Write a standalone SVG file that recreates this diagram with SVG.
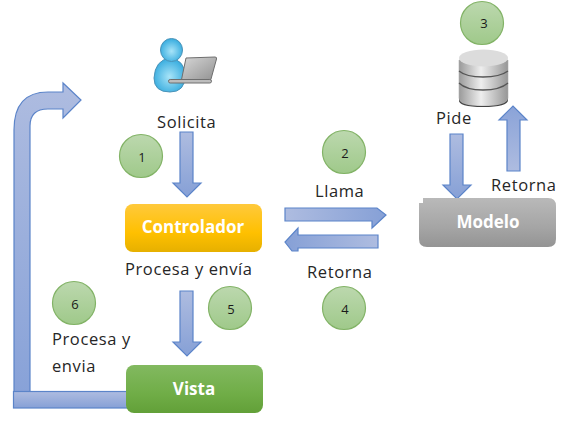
<svg xmlns="http://www.w3.org/2000/svg" width="572" height="424" viewBox="0 0 572 424">
<style>
.t{font-family:"Open Sans","Noto Sans",sans-serif;font-size:16.500px;fill:#262626;letter-spacing:.6px}
.n{font-family:"Open Sans","Noto Sans",sans-serif;font-size:13px;fill:#1a1a1a;text-anchor:middle}
.b{font-family:"Open Sans","Noto Sans",sans-serif;font-size:17px;font-weight:700;fill:#fff;text-anchor:middle}
.c{fill:url(#gc);stroke:#82b366;stroke-width:1.2}
.a{stroke:#5b84c9;stroke-width:1.2}
</style>
<defs>
<linearGradient id="gc" x1="0" y1="0" x2="0" y2="1"><stop offset="0" stop-color="#bcd8ae"/><stop offset="1" stop-color="#9fc98a"/></linearGradient>
<linearGradient id="gv" x1="0" y1="0" x2="0" y2="1"><stop offset="0" stop-color="#aebce0"/><stop offset="1" stop-color="#86a0d6"/></linearGradient>
<linearGradient id="gb" x1="0" y1="0" x2="0" y2="1"><stop offset="0" stop-color="#aebce0"/><stop offset="1" stop-color="#88a2d8"/></linearGradient>
<linearGradient id="gv2" x1="0" y1="0" x2="0" y2="1"><stop offset="0" stop-color="#8aa3d8"/><stop offset="1" stop-color="#aebce0"/></linearGradient>
<linearGradient id="gh" x1="0" y1="0" x2="1" y2="0"><stop offset="0" stop-color="#aebce0"/><stop offset="1" stop-color="#86a0d6"/></linearGradient>
<linearGradient id="gh2" x1="0" y1="0" x2="1" y2="0"><stop offset="0" stop-color="#86a0d6"/><stop offset="1" stop-color="#aebce0"/></linearGradient>
<linearGradient id="gy" x1="0" y1="0" x2="0" y2="1"><stop offset="0" stop-color="#ffc93c"/><stop offset=".6" stop-color="#ffc000"/><stop offset="1" stop-color="#e6b000"/></linearGradient>
<linearGradient id="gg" x1="0" y1="0" x2="0" y2="1"><stop offset="0" stop-color="#82b960"/><stop offset=".6" stop-color="#70ad47"/><stop offset="1" stop-color="#62a038"/></linearGradient>
<linearGradient id="gm" x1="0" y1="0" x2="0" y2="1"><stop offset="0" stop-color="#b9b9b9"/><stop offset=".6" stop-color="#a5a5a5"/><stop offset="1" stop-color="#949494"/></linearGradient>
<linearGradient id="gdb" x1="0" y1="0" x2="1" y2="0"><stop offset="0" stop-color="#9a9a9a"/><stop offset=".45" stop-color="#eeeeee"/><stop offset="1" stop-color="#969696"/></linearGradient>
<radialGradient id="gp" cx=".5" cy=".55" r=".6"><stop offset="0" stop-color="#a8e4f8"/><stop offset="1" stop-color="#2ba6dc"/></radialGradient>
<linearGradient id="gl" x1="0" y1="0" x2="1" y2="1"><stop offset="0" stop-color="#d8d8d8"/><stop offset="1" stop-color="#8e8e8e"/></linearGradient>
</defs>
<g id="connectors">
<path class="a" fill="url(#gv)" d="M180 132H193V183H201L187 197L173 183H180Z"/>
<path class="a" fill="url(#gv)" d="M180 291H193V342H201L187 356L173 342H180Z"/>
<path class="a" fill="url(#gv)" d="M450 134H463V185H471L457 199L443 185H450Z"/>
<path class="a" fill="url(#gv2)" d="M507 171H520V120H527L513 106L499 120H507Z"/>
<path class="a" fill="url(#gh)" d="M285 208H377L386 215L372 228V221H285Z"/>
<path class="a" fill="url(#gh2)" d="M378 235V248H298V251H292L285 242L298 228V235Z"/>
<path class="a" fill="url(#gb)" d="M14 392V130Q14 92 48 92H63V83L81 100L63 118V109H48Q30 109 30 126V392Z"/>
<rect class="a" x="13.500" y="391.500" width="115" height="16.500" fill="url(#gv)"/>
</g>
<g id="n-circle-1"><circle class="c" cx="141" cy="156" r="21.500"/><text class="n" x="142" y="162">1</text></g>
<g id="n-circle-2"><circle class="c" cx="344" cy="152" r="21.500"/><text class="n" x="345" y="158">2</text></g>
<g id="n-circle-3"><circle class="c" cx="482" cy="23" r="21.500"/><text class="n" x="484" y="28">3</text></g>
<g id="n-circle-4"><circle class="c" cx="344" cy="308" r="21.500"/><text class="n" x="345" y="314">4</text></g>
<g id="n-circle-5"><circle class="c" cx="230" cy="308" r="21.500"/><text class="n" x="231" y="314">5</text></g>
<g id="n-circle-6"><circle class="c" cx="74" cy="303" r="21.500"/><text class="n" x="75" y="309">6</text></g>
<g id="n-user">
<path d="M154 78Q155 60 170 58Q185 60 185 76Q185 92 170 92Q154 92 154 78Z" fill="url(#gp)" stroke="#4b93b8"/>
<ellipse cx="171.500" cy="50" rx="11" ry="11.500" fill="url(#gp)" stroke="#4b93b8"/>
<path d="M186 58L215 57Q217 57 216.500 59L211 79Q210 82 208 82H181Z" fill="url(#gl)" stroke="#6e6e6e"/>
<rect x="168.500" y="79.500" width="43" height="3.500" rx="1.700" fill="#bdbdbd" stroke="#6e6e6e"/>
</g>
<g id="n-database">
<path d="M459 60V98Q459 106 483 106T508 98V60Z" fill="url(#gdb)" stroke="#b0b0b0" stroke-width=".6"/>
<path d="M459 98Q459 106 483 106T508 98V100Q508 107 483 107T459 100Z" fill="#444"/>
<ellipse cx="483.500" cy="58" rx="24.500" ry="8.500" fill="#dcdcdc"/>
<path d="M459 71Q466 77 483 77T508 71M459 83Q466 90 483 90T508 83" fill="none" stroke="#555" stroke-width="1.300"/>
</g>
<g id="n-controlador"><rect x="125" y="204" width="137" height="48" rx="8" fill="url(#gy)"/><text class="b" x="193" y="233">Controlador</text></g>
<g id="n-modelo"><path d="M423 198H548Q556 198 556 206V239Q556 247 548 247H427Q419 247 419 239V203H423Z" fill="url(#gm)"/><text class="b" x="488" y="228">Modelo</text></g>
<g id="n-vista"><rect x="126" y="365" width="137" height="48" rx="8" fill="url(#gg)"/><text class="b" x="194" y="395">Vista</text></g>
<g id="labels">
<text class="t" x="157" y="128">Solicita</text>
<text class="t" x="436" y="124">Pide</text>
<text class="t" x="491" y="191">Retorna</text>
<text class="t" x="315" y="197">Llama</text>
<text class="t" x="125" y="275">Procesa y envía</text>
<text class="t" x="307" y="278">Retorna</text>
<text class="t" x="52" y="345">Procesa y</text>
<text class="t" x="52" y="372">envia</text>
</g>
</svg>
